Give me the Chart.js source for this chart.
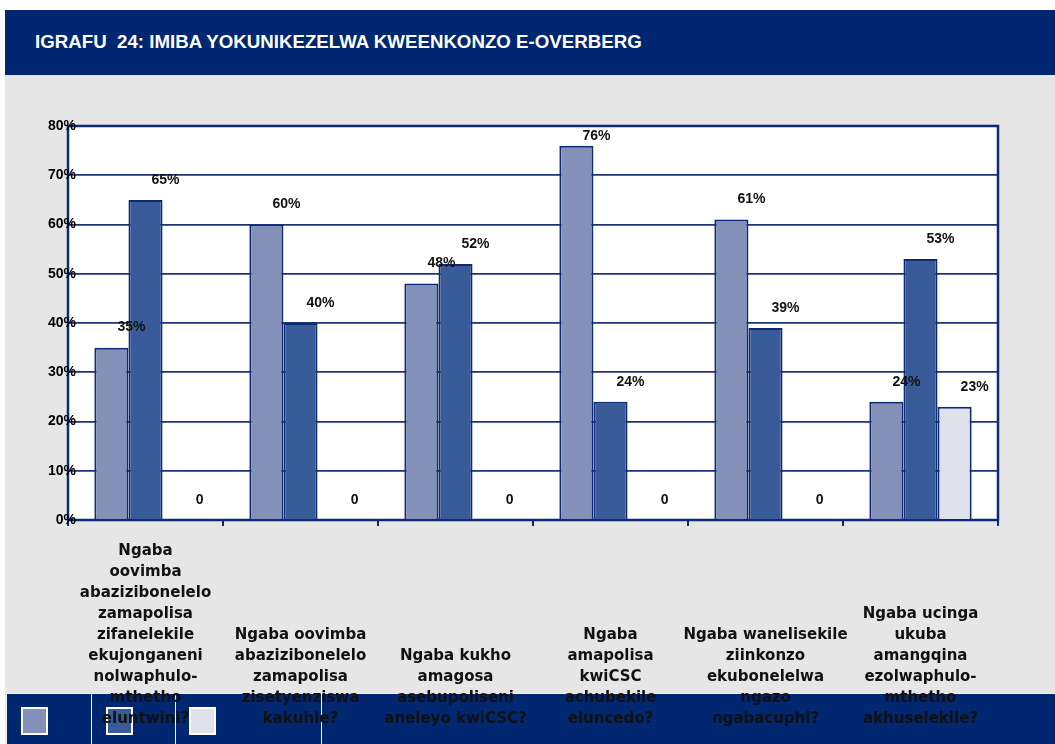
<!DOCTYPE html>
<html>
<head>
<meta charset="utf-8">
<script src="https://cdn.jsdelivr.net/npm/chart.js@4"></script>
<style>
  html, body { margin: 0; padding: 0; background: #fff; }
  #page { position: absolute; left: 5px; top: 10px; width: 1050px; height: 734px; background: #e6e6e6; }
  #header { position: absolute; left: 5px; top: 10px; width: 1050px; height: 65px; background: #00276f; z-index: 2; }
  #header h1 { margin: 0; position: absolute; left: 30px; top: 0; color: #fff;
    font: bold 18.7px "Liberation Sans", Arial, sans-serif; line-height: 64px; white-space: pre; }
  #wrap { position: absolute; left: 0; top: 0; width: 1055px; height: 744px; z-index: 1; }
</style>
</head>
<body>
<div id="page"></div>
<div id="header"><h1>IGRAFU  24: IMIBA YOKUNIKEZELWA KWEENKONZO E-OVERBERG</h1></div>
<div id="wrap"><canvas id="barChart"></canvas></div>
<script>
// Data
const categories = [
  ['Ngaba', 'oovimba', 'abazizibonelelo', 'zamapolisa', 'zifanelekile', 'ekujonganeni', 'nolwaphulo-', 'mthetho', 'eluntwini?'],
  ['Ngaba oovimba', 'abazizibonelelo', 'zamapolisa', 'zisetyenziswa', 'kakuhle?'],
  ['Ngaba kukho', 'amagosa', 'asebupoliseni', 'aneleyo kwiCSC?'],
  ['Ngaba', 'amapolisa', 'kwiCSC', 'achubekile', 'eluncedo?'],
  ['Ngaba wanelisekile', 'ziinkonzo', 'ekubonelelwa', 'ngazo', 'ngabacuphi?'],
  ['Ngaba ucinga', 'ukuba', 'amangqina', 'ezolwaphulo-', 'mthetho', 'akhuselekile?']
];
const series1 = [35, 60, 48, 76, 61, 24];
const series2 = [65, 40, 52, 24, 39, 53];
const series3 = [0, 0, 0, 0, 0, 23];
const yTicks = [0, 10, 20, 30, 40, 50, 60, 70, 80];

const navy = '#0f2a73';
const colors = ['#8391b9', '#3a5b99', '#dfe2ec'];
const numFont = 'bold 14px "Liberation Sans", Arial, sans-serif';

// background, bottom band, legend boxes, frame, y labels and value labels
const pagePlugin = {
  id: 'page',
  beforeDraw(chart) {
    const { ctx, chartArea: a } = chart;
    ctx.save();
    ctx.fillStyle = '#fff';
    ctx.fillRect(a.left, a.top, a.right - a.left, a.bottom - a.top);

    ctx.fillStyle = '#00276f';
    ctx.fillRect(6, 694, 1049, 50);
    ctx.strokeStyle = '#f4f4f4';
    ctx.lineWidth = 1;
    ctx.beginPath();
    ctx.moveTo(6, 693.5); ctx.lineTo(1055, 693.5);
    [91.5, 175.5, 321.5].forEach(x => { ctx.moveTo(x, 694); ctx.lineTo(x, 744); });
    ctx.moveTo(6.5, 694); ctx.lineTo(6.5, 744);
    ctx.stroke();

    const boxX = [22, 107, 190];
    chart.data.datasets.forEach((ds, i) => {
      ctx.fillStyle = ds.backgroundColor;
      ctx.fillRect(boxX[i], 708, 25, 26);
      ctx.strokeStyle = '#fff';
      ctx.lineWidth = 2;
      ctx.strokeRect(boxX[i], 708, 25, 26);
    });
    ctx.restore();
  },
  beforeDatasetsDraw(chart) {
    const { ctx, chartArea: a } = chart;
    ctx.save();
    ctx.strokeStyle = navy;
    ctx.lineWidth = 2.5;
    ctx.strokeRect(a.left, a.top, a.right - a.left, a.bottom - a.top);
    ctx.restore();
  },
  afterDatasetsDraw(chart) {
    const { ctx, chartArea: a } = chart;
    const ys = chart.scales.y;
    ctx.save();
    ctx.font = numFont;
    ctx.textBaseline = 'middle';
    // y tick labels overlap the axis line in the original
    ctx.fillStyle = '#000';
    ctx.textAlign = 'right';
    ys.ticks.forEach(t => ctx.fillText(t.value + '%', a.left + 8, ys.getPixelForValue(t.value)));

    ctx.fillStyle = '#111';
    ctx.textAlign = 'center';
    chart.data.datasets.forEach((ds, i) => {
      chart.getDatasetMeta(i).data.forEach((bar, j) => {
        const v = ds.data[j];
        const y = Math.max(bar.y - 20, a.top + 10);
        ctx.fillText(v === 0 ? '0' : v + '%', bar.x + 20, y);
      });
    });
    ctx.restore();
  }
};

new Chart(document.getElementById('barChart'), {
  type: 'bar',
  data: {
    labels: categories,
    datasets: [series1, series2, series3].map((d, i) => ({
      data: d,
      backgroundColor: colors[i],
      borderColor: navy,
      borderWidth: 2,
      categoryPercentage: 0.66,
      barPercentage: 1
    }))
  },
  options: {
    responsive: true,
    maintainAspectRatio: false,
    animation: false,
    layout: { padding: { left: 0, right: 57, top: 126, bottom: 0 } },
    plugins: { legend: { display: false }, tooltip: { enabled: false } },
    scales: {
      x: {
        grid: { drawOnChartArea: false, drawTicks: true, tickLength: 6, color: navy, lineWidth: 2, offset: true },
        border: { display: false },
        ticks: {
          color: '#111',
          padding: 25,
          crossAlign: 'far',
          maxRotation: 0,
          autoSkip: false,
          font: { family: '"DejaVu Sans", sans-serif', weight: 'bold', size: 15, lineHeight: 1.4 }
        },
        afterFit(scale) { scale.height = 224; }
      },
      y: {
        min: 0,
        max: 80,
        afterBuildTicks(scale) { scale.ticks = yTicks.map(v => ({ value: v })); },
        ticks: { display: false },
        grid: { color: '#1c3578', lineWidth: 1.8, drawTicks: false },
        border: { display: false },
        afterFit(scale) { scale.width = 68; }
      }
    }
  },
  plugins: [pagePlugin]
});
</script>
</body>
</html>
